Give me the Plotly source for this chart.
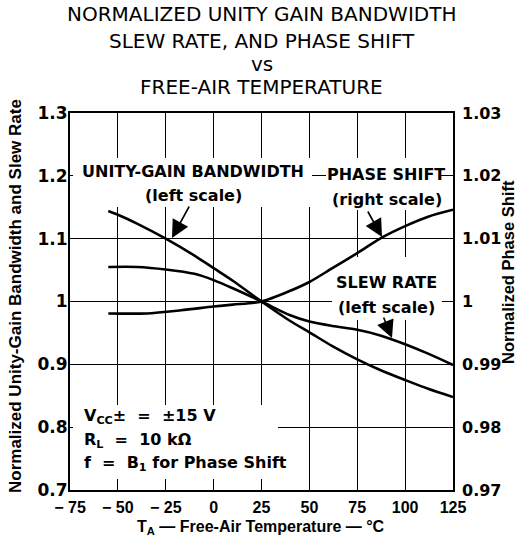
import plotly.graph_objects as go

# ---------------- data ----------------
ugbw_temp = [-55, -50, -40, -25, -10, 0, 10, 25, 40, 50, 62, 75, 87, 100, 112, 125]
ugbw_val = [1.144, 1.138, 1.124, 1.100, 1.073, 1.053, 1.033, 1.000, 0.969, 0.951, 0.929, 0.908, 0.891, 0.875, 0.861, 0.848]

slew_temp = [-55, -40, -25, -10, 0, 10, 25, 40, 50, 62, 75, 87, 100, 112, 125]
slew_val = [1.055, 1.055, 1.051, 1.044, 1.034, 1.021, 1.000, 0.978, 0.968, 0.961, 0.955, 0.946, 0.932, 0.917, 0.899]

phase_temp = [-55, -35, -17, 0, 10, 25, 40, 50, 62, 75, 88, 100, 112, 125]
phase_val = [0.9981, 0.9981, 0.9986, 0.9992, 0.9995, 1.0000, 1.0017, 1.0031, 1.0053, 1.0077, 1.0102, 1.0120, 1.0135, 1.0146]

x_ticks = [-75, -50, -25, 0, 25, 50, 75, 100, 125]
x_ticktext = ["− 75", "− 50", "− 25", "0", "25", "50", "75", "100", "125"]
y_ticks = [0.7, 0.8, 0.9, 1.0, 1.1, 1.2, 1.3]
y_ticktext = ["0.7", "0.8", "0.9", "1", "1.1", "1.2", "1.3"]
y2_ticks = [0.97, 0.98, 0.99, 1.0, 1.01, 1.02, 1.03]
y2_ticktext = ["0.97", "0.98", "0.99", "1", "1.01", "1.02", "1.03"]

title_lines = ["NORMALIZED UNITY GAIN BANDWIDTH", "SLEW RATE, AND PHASE SHIFT", "vs", "FREE-AIR TEMPERATURE"]

# ---------------- layout helpers (pixel geometry of the frame) ----------------
W, H = 519, 542
L, R, T, B = 70, 453, 113, 490   # frame edges in pixels

def pxp(p):  # pixel x -> paper
    return (p - L) / (R - L)

def pyp(p):  # pixel y -> paper
    return (B - p) / (B - T)

def px2x(p):
    return -75 + (p - L) * 200 / (R - L)

def py2y(p):
    return 1.3 - (p - T) * 0.6 / (B - T)

BOLD = dict(family="DejaVu Sans", size=16, color="black", weight="bold")
ABOLD = dict(family="Liberation Sans", size=16, color="black", weight="bold")

fig = go.Figure()
line_style = dict(color="black", width=2.6, shape="spline", smoothing=0.8)
fig.add_trace(go.Scatter(x=ugbw_temp, y=ugbw_val, mode="lines", line=line_style, yaxis="y"))
fig.add_trace(go.Scatter(x=slew_temp, y=slew_val, mode="lines", line=line_style, yaxis="y"))
fig.add_trace(go.Scatter(x=phase_temp, y=phase_val, mode="lines", line=line_style, yaxis="y2"))

# white masks over the grid behind the text blocks
masks = [
    (73, 158, 312, 207),
    (326, 158, 441, 210),
    (332, 257, 442, 320),
    (73, 405, 278, 479),
]
shapes = []
for x0, y0, x1, y1 in masks:
    shapes.append(dict(type="rect", xref="x", yref="y", layer="between",
                       x0=px2x(x0), x1=px2x(x1), y0=py2y(y1), y1=py2y(y0),
                       fillcolor="white", line=dict(width=0)))

ann = []
# title
title_y = [14, 41, 64, 87]
for txt, yy in zip(title_lines, title_y):
    ann.append(dict(text=txt, xref="paper", yref="paper", x=pxp(261.5), y=pyp(yy),
                    xanchor="center", yanchor="middle", showarrow=False,
                    font=dict(family="DejaVu Sans", size=20, color="black")))

# labels
def lab(txt, x, y, anchor="center", font=BOLD):
    ann.append(dict(text=txt, xref="paper", yref="paper", x=pxp(x), y=pyp(y),
                    xanchor=anchor, yanchor="middle", showarrow=False, font=font))

lab("UNITY-GAIN BANDWIDTH", 193, 171)
lab("(left scale)", 193, 195)
lab("PHASE SHIFT", 386, 174)
lab("(right scale)", 387, 199)
lab("SLEW RATE", 386, 282)
lab("(left scale)", 386, 307)
lab("V<sub>CC</sub>±  =  ±15 V", 82, 416, "left")
lab("R<sub>L</sub>  =  10 kΩ", 82, 440, "left")
lab("f  =  B<sub>1</sub> for Phase Shift", 82, 463, "left")

# axis titles
ann.append(dict(text="<b>T<sub>A</sub> — Free-Air Temperature — °C</b>", xref="paper", yref="paper",
                x=pxp(261), y=pyp(527), xanchor="center", yanchor="middle", showarrow=False, font=ABOLD))
ann.append(dict(text="<b>Normalized Unity-Gain Bandwidth and Slew Rate</b>", xref="paper", yref="paper",
                x=pxp(15), y=pyp(296), xanchor="center", yanchor="middle", textangle=-90,
                showarrow=False, font=dict(ABOLD, size=17)))
ann.append(dict(text="<b>Normalized Phase Shift</b>", xref="paper", yref="paper",
                x=pxp(508), y=pyp(272), xanchor="center", yanchor="middle", textangle=-90,
                showarrow=False, font=dict(ABOLD, size=16.5)))

# arrows
arrow = dict(text="", showarrow=True, arrowhead=2, arrowsize=2.2, arrowwidth=1.6,
             arrowcolor="black", standoff=0)
ann.append(dict(arrow, x=px2x(172), y=py2y(238), xref="x", yref="y", ax=18, ay=-33))
ann.append(dict(arrow, x=px2x(382), y=py2y(237), xref="x", yref="y", ax=-15, ay=-27))
ann.append(dict(arrow, x=px2x(392), y=py2y(338), xref="x", yref="y", ax=-9, ay=-22))

fig.update_layout(
    width=W, height=H,
    margin=dict(l=L, r=W - R, t=T, b=H - B, pad=0),
    paper_bgcolor="white", plot_bgcolor="white",
    showlegend=False,
    shapes=shapes, annotations=ann,
    xaxis=dict(range=[-75, 125], tickvals=x_ticks, ticktext=x_ticktext, showgrid=True,
               gridcolor="black", gridwidth=1.3, zeroline=False, showline=True,
               linecolor="black", linewidth=2, mirror=True, ticks="",
               tickfont=ABOLD, ticklabelstandoff=2),
    yaxis=dict(range=[0.7, 1.3], tickvals=y_ticks, ticktext=y_ticktext, showgrid=True,
               gridcolor="black", gridwidth=1.3, zeroline=False, showline=True,
               linecolor="black", linewidth=2, mirror=True, ticks="",
               tickfont=dict(BOLD, size=17), ticklabelstandoff=-3),
    yaxis2=dict(range=[0.97, 1.03], tickvals=y2_ticks, ticktext=y2_ticktext, overlaying="y",
                side="right", showgrid=False, zeroline=False, showline=False, ticks="",
                tickfont=BOLD, ticklabelstandoff=8),
)

fig.write_html("out.html", config={"displayModeBar": False},
               post_script="document.body.style.margin='0';document.body.style.padding='0';"
                           "document.body.style.overflow='hidden';")
